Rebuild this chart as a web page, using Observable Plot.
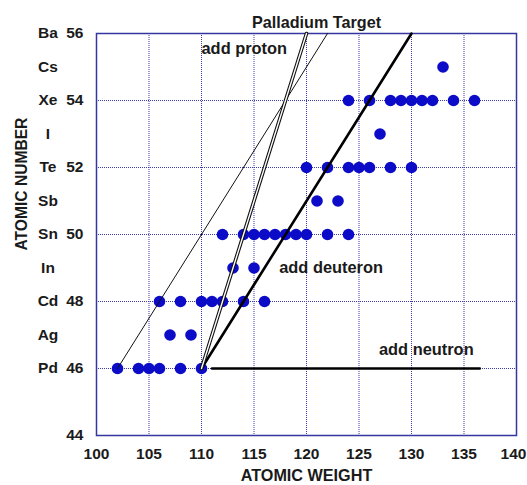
<!DOCTYPE html>
<html>
<head>
<meta charset="utf-8">
<script src="https://cdn.jsdelivr.net/npm/d3@7"></script>
<script src="https://cdn.jsdelivr.net/npm/@observablehq/plot@0.6"></script>
<style>
  html, body { margin: 0; padding: 0; background: #fff; }
  #chart svg { display: block; }
</style>
</head>
<body>
<div id="chart"></div>
<script>
// ---- data ----
const symbols = ["Pd", "Ag", "Cd", "In", "Sn", "Sb", "Te", "I", "Xe", "Cs", "Ba"];
const atomicNumbers = [46, 47, 48, 49, 50, 51, 52, 53, 54, 55, 56];
const pdWeights = [102, 104, 105, 106, 108, 110];
const agWeights = [107, 109];
const cdWeights = [106, 108, 110, 111, 112, 114, 116];
const inWeights = [113, 115];
const snWeights = [112, 114, 115, 116, 117, 118, 119, 120, 122, 124];
const sbWeights = [121, 123];
const teWeights = [120, 122, 124, 125, 126, 128, 130];
const iWeights = [127];
const xeWeights = [124, 126, 128, 129, 130, 131, 132, 134, 136];
const csWeights = [133];
const xTicks = [100, 105, 110, 115, 120, 125, 130, 135, 140];
const yNumberTicks = [44, 46, 48, 50, 52, 54, 56];
// reaction lines (A, Z endpoints)
const deuteronLineA = [[102, 46], [122, 56]];
const deuteronLineB = [[110, 46], [130, 56]];
const protonLine = [[110, 46], [120, 56]];
const neutronLine = [[111, 46], [136.5, 46]];
const annotations = [
  {a: 110, z: 55.55, label: "add proton"},
  {a: 117.4, z: 49, label: "add deuteron"},
  {a: 126.9, z: 46.57, label: "add neutron"}
];

// ---- build table ----
const weightLists = [pdWeights, agWeights, cdWeights, inWeights, snWeights, sbWeights, teWeights, iWeights, xeWeights, csWeights];
const isotopes = weightLists.flatMap((ws, i) => ws.map(a => ({a, z: atomicNumbers[i]})));
const symbolTicks = symbols.map((s, i) => ({z: atomicNumbers[i], s}));
const toPts = arr => arr.map(([a, z]) => ({a, z}));

const FONT = "'Liberation Sans', Arial, Helvetica, sans-serif";
const ink = "#1a1a1a";
const gridColor = "#3a3aa8";
const tickFont = 15.5;
const titleFont = 16.2;

const plot = Plot.plot({
  width: 527,
  height: 485,
  marginLeft: 96,
  marginRight: 11,
  marginTop: 33,
  marginBottom: 50,
  style: {fontFamily: FONT, fontWeight: "bold", background: "#fff", color: ink},
  x: {domain: [100, 140]},
  y: {domain: [44, 56]},
  marks: [
    Plot.gridX(xTicks.slice(1, -1), {stroke: gridColor, strokeOpacity: 1, strokeDasharray: "1,1", strokeWidth: 1}),
    Plot.gridY(yNumberTicks.slice(1, -1), {stroke: gridColor, strokeOpacity: 1, strokeDasharray: "1,1", strokeWidth: 1}),
    Plot.frame({stroke: "#3636a0", strokeWidth: 1.5}),
    Plot.axisX(xTicks.slice(0, -1), {tickSize: 0, tickPadding: 12, fontSize: tickFont, fontWeight: "bold", fill: ink, label: null}),
    Plot.axisX(xTicks.slice(-1), {tickSize: 0, tickPadding: 12, dx: -3, fontSize: tickFont, fontWeight: "bold", fill: ink, label: null}),
    Plot.axisY(yNumberTicks, {tickSize: 0, tickPadding: 13, fontSize: tickFont, fontWeight: "bold", fill: ink, label: null}),
    Plot.text(symbolTicks, {y: "z", text: "s", frameAnchor: "left", dx: -48.5, textAnchor: "middle", fontSize: tickFont, fontWeight: "bold", fill: ink}),
    Plot.dot(isotopes, {x: "a", y: "z", r: 5.8, fill: "#0c0cc8", stroke: "none"}),
    Plot.line(toPts(deuteronLineA), {x: "a", y: "z", stroke: "#111", strokeWidth: 1}),
    Plot.line(toPts(deuteronLineB), {x: "a", y: "z", stroke: "#000", strokeWidth: 2.6}),
    Plot.line(toPts(protonLine), {x: "a", y: "z", stroke: "#111", strokeWidth: 3.6}),
    Plot.line(toPts(protonLine), {x: "a", y: "z", stroke: "#fff", strokeWidth: 1.4}),
    Plot.line(toPts(neutronLine), {x: "a", y: "z", stroke: "#000", strokeWidth: 2.6}),
    Plot.text(annotations, {x: "a", y: "z", text: "label", textAnchor: "start", fontSize: 16.4, fontWeight: "bold", fill: ink}),
    Plot.text(["Palladium Target"], {frameAnchor: "top", dx: 10, dy: -17, fontSize: titleFont, fontWeight: "bold", fill: ink}),
    Plot.text(["ATOMIC WEIGHT"], {frameAnchor: "bottom", dy: 45, fontSize: titleFont, fontWeight: "bold", fill: ink}),
    Plot.text(["ATOMIC NUMBER"], {frameAnchor: "left", dx: -75, dy: 16, rotate: -90, fontSize: 15.6, fontWeight: "bold", fill: ink})
  ]
});
document.getElementById("chart").appendChild(plot);
</script>
</body>
</html>
